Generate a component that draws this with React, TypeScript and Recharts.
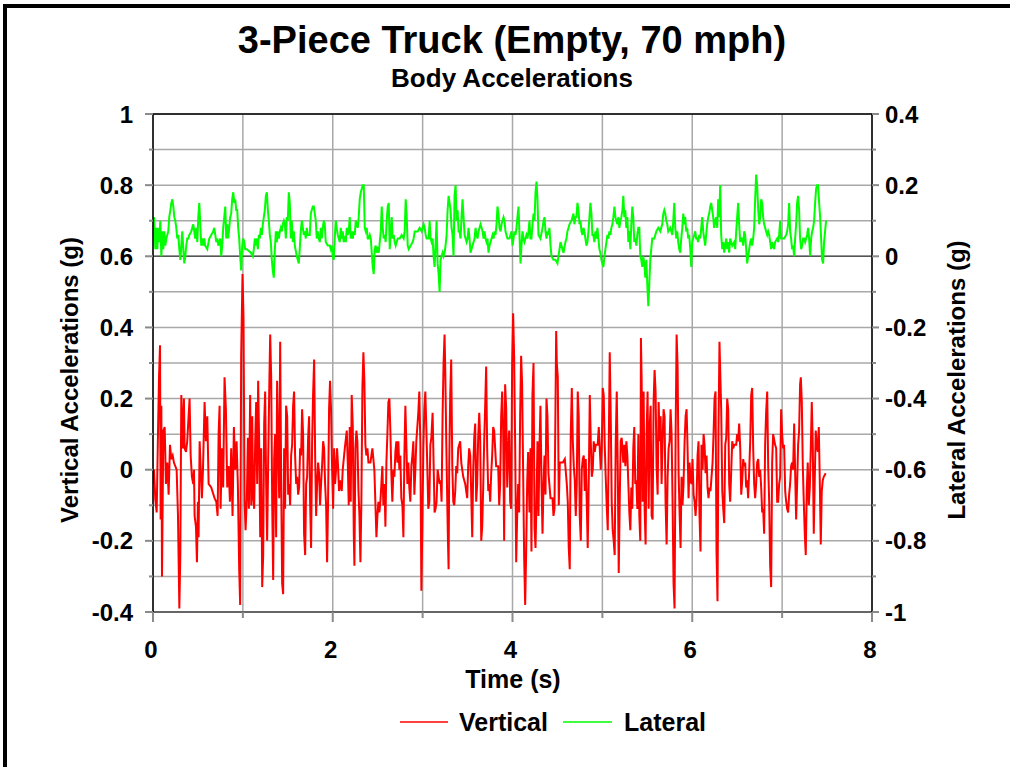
import React from "react";
import { LineChart, Line, XAxis, YAxis, CartesianGrid, ReferenceLine } from "recharts";

// ---- Data (time in s, acceleration in g) ----
const verticalSeries: [number, number][] = [
  [0.000,-0.04],[0.011,0.00],[0.026,-0.085],[0.041,-0.12],[0.056,0.11],[0.067,0.26],[0.078,0.35],[0.085,-0.14],[0.093,0.18],[0.100,-0.30],[0.115,0.11],[0.130,0.12],[0.144,-0.04],[0.159,0.02],[0.174,-0.07],[0.189,0.07],[0.204,0.03],[0.219,0.04],[0.233,0.02],[0.263,0.00],[0.278,-0.13],[0.293,-0.39],[0.304,-0.24],[0.315,0.21],[0.330,0.06],[0.344,0.20],[0.352,0.06],[0.367,0.05],[0.381,0.08],[0.396,0.15],[0.407,0.20],[0.419,0.04],[0.433,-0.02],[0.448,-0.04],[0.456,0.00],[0.463,-0.13],[0.478,-0.16],[0.489,-0.26],[0.500,-0.09],[0.507,-0.19],[0.519,0.08],[0.530,0.01],[0.544,-0.08],[0.556,0.00],[0.574,0.19],[0.589,0.08],[0.604,0.15],[0.619,-0.04],[0.648,-0.05],[0.685,-0.08],[0.704,-0.09],[0.719,-0.13],[0.730,0.10],[0.741,0.18],[0.752,-0.11],[0.767,0.06],[0.781,-0.05],[0.796,0.26],[0.811,0.17],[0.826,-0.05],[0.841,0.01],[0.856,-0.09],[0.870,0.06],[0.885,-0.13],[0.900,0.12],[0.915,0.00],[0.930,0.08],[0.944,-0.04],[0.959,-0.28],[0.970,-0.38],[0.981,0.32],[0.996,0.55],[1.007,0.43],[1.019,-0.09],[1.030,-0.17],
  [1.044,-0.08],[1.056,0.09],[1.067,-0.11],[1.081,0.21],[1.093,-0.10],[1.104,0.15],[1.115,-0.08],[1.126,-0.11],[1.137,0.08],[1.148,0.19],[1.159,-0.04],[1.170,0.25],[1.181,0.08],[1.193,-0.19],[1.204,0.06],[1.215,-0.33],[1.226,-0.24],[1.237,0.13],[1.248,0.22],[1.259,-0.04],[1.270,-0.20],[1.281,0.01],[1.293,0.22],[1.304,0.38],[1.315,0.26],[1.326,-0.09],[1.337,-0.31],[1.348,0.03],[1.359,0.10],[1.370,-0.19],[1.381,0.25],[1.393,0.06],[1.404,-0.08],[1.415,0.36],[1.426,-0.03],[1.437,-0.32],[1.448,-0.35],[1.459,0.06],[1.470,-0.11],[1.481,0.18],[1.493,0.15],[1.504,-0.07],[1.515,-0.04],[1.526,-0.10],[1.537,0.04],[1.548,0.07],[1.559,0.18],[1.570,0.22],[1.581,0.04],[1.593,-0.04],[1.604,-0.02],[1.615,-0.07],[1.626,-0.05],[1.637,0.06],[1.648,0.04],[1.659,0.17],[1.670,0.10],[1.681,-0.18],[1.693,-0.24],[1.704,-0.04],[1.715,-0.02],[1.726,0.09],[1.737,0.15],[1.748,-0.09],[1.759,-0.22],[1.770,0.07],[1.781,0.21],[1.793,0.31],[1.804,0.04],[1.815,-0.13],[1.826,-0.04],[1.837,0.02],[1.848,-0.01],[1.859,-0.10],[1.870,-0.04],[1.881,0.01],[1.893,0.08],[1.904,0.06],[1.915,-0.04],[1.926,-0.10],[1.937,-0.26],[1.948,-0.09],[1.959,0.17],[1.970,0.25],[1.981,0.17],[1.993,0.00],[2.004,-0.11],[2.015,0.06],[2.026,-0.04],[2.037,0.00],[2.048,0.06],[2.059,0.01],[2.070,-0.06],[2.081,-0.03],
  [2.100,-0.06],[2.111,0.00],[2.134,0.06],[2.156,0.11],[2.167,0.02],[2.178,-0.10],[2.189,0.12],[2.200,-0.09],[2.211,0.21],[2.223,0.12],[2.234,-0.18],[2.241,-0.27],[2.252,0.06],[2.263,0.11],[2.274,0.08],[2.286,-0.06],[2.297,-0.13],[2.308,-0.26],[2.319,-0.08],[2.330,0.23],[2.341,0.33],[2.352,0.25],[2.363,0.07],[2.374,0.04],[2.386,0.06],[2.397,0.02],[2.419,0.02],[2.441,0.06],[2.463,0.00],[2.474,-0.09],[2.486,-0.19],[2.497,-0.13],[2.508,-0.09],[2.519,-0.12],[2.530,-0.09],[2.541,-0.04],[2.552,0.01],[2.563,-0.10],[2.575,-0.04],[2.586,-0.16],[2.597,0.02],[2.608,0.10],[2.619,0.19],[2.630,0.20],[2.641,0.11],[2.652,-0.01],[2.663,-0.09],[2.675,0.00],[2.686,-0.02],[2.697,0.05],[2.708,0.08],[2.719,0.02],[2.730,0.08],[2.741,0.00],[2.752,0.04],[2.763,-0.08],[2.775,-0.10],[2.786,-0.19],[2.797,0.04],[2.808,0.18],[2.819,0.07],[2.830,-0.04],[2.841,0.02],[2.852,-0.05],[2.863,-0.09],[2.875,0.01],[2.886,0.04],[2.897,0.08],[2.908,-0.07],[2.919,0.00],[2.930,0.08],[2.952,0.16],[2.963,0.22],[2.975,0.07],[2.986,-0.34],[2.997,-0.16],[3.008,0.06],[3.019,0.17],[3.030,0.22],[3.041,0.12],[3.052,0.01],[3.063,-0.11],[3.075,-0.09],[3.086,0.07],[3.097,0.09],
  [3.111,0.16],[3.122,0.02],[3.133,-0.12],[3.144,-0.11],[3.155,-0.09],[3.167,0.00],[3.189,-0.04],[3.200,-0.03],[3.211,-0.09],[3.222,0.15],[3.233,0.30],[3.244,0.38],[3.252,0.28],[3.263,0.08],[3.274,-0.09],[3.281,-0.19],[3.289,-0.28],[3.296,0.01],[3.307,0.21],[3.318,0.31],[3.330,0.01],[3.341,-0.09],[3.352,-0.10],[3.363,-0.06],[3.374,0.01],[3.385,-0.01],[3.396,0.06],[3.407,0.07],[3.418,0.08],[3.430,0.02],[3.452,-0.02],[3.474,-0.04],[3.496,-0.08],[3.507,0.01],[3.518,0.06],[3.530,0.04],[3.541,-0.07],[3.552,-0.19],[3.563,0.00],[3.574,0.09],[3.585,0.13],[3.596,-0.09],[3.607,-0.04],[3.618,0.09],[3.630,0.16],[3.641,0.08],[3.652,-0.20],[3.663,-0.16],[3.674,-0.05],[3.685,0.08],[3.696,0.18],[3.707,0.29],[3.718,0.06],[3.730,-0.06],[3.741,-0.04],[3.752,-0.09],[3.763,-0.01],[3.774,0.04],[3.785,0.12],[3.796,0.11],[3.807,0.06],[3.818,0.01],[3.841,0.01],[3.852,-0.10],[3.863,-0.04],[3.874,0.15],[3.885,0.22],[3.896,0.11],[3.907,-0.20],[3.918,0.24],[3.930,0.17],[3.941,-0.05],[3.952,0.06],[3.963,0.11],[3.974,-0.09],[3.985,-0.11],[3.996,0.30],[4.007,0.44],[4.018,0.32],[4.030,0.06],[4.041,-0.26],[4.052,-0.13],[4.063,-0.04],[4.074,-0.12],[4.085,0.15],[4.096,0.32],[4.107,0.24],[4.118,0.00],[4.130,-0.25],[4.141,-0.38],[4.152,-0.23],[4.163,-0.04],[4.174,0.05],
  [4.189,-0.12],[4.200,0.06],[4.211,-0.23],[4.222,0.21],[4.234,0.30],[4.245,-0.16],[4.256,-0.22],[4.267,-0.09],[4.278,0.08],[4.289,-0.13],[4.300,0.06],[4.311,0.18],[4.323,-0.04],[4.334,-0.18],[4.345,-0.04],[4.356,0.04],[4.367,-0.07],[4.378,0.20],[4.389,0.15],[4.400,-0.01],[4.423,-0.08],[4.445,-0.08],[4.456,-0.13],[4.467,-0.11],[4.478,0.17],[4.486,0.39],[4.493,0.30],[4.504,0.26],[4.515,-0.10],[4.526,0.02],[4.560,0.02],[4.582,0.03],[4.604,-0.04],[4.615,-0.09],[4.626,-0.22],[4.637,-0.28],[4.648,0.10],[4.660,0.23],[4.671,0.08],[4.682,0.01],[4.693,-0.03],[4.704,-0.13],[4.715,-0.04],[4.726,0.22],[4.737,0.15],[4.748,-0.13],[4.760,-0.20],[4.771,0.00],[4.782,0.03],[4.793,0.04],[4.804,-0.06],[4.815,0.03],[4.826,-0.09],[4.837,-0.22],[4.849,-0.02],[4.860,0.21],[4.871,0.08],[4.882,-0.02],[4.893,0.00],[4.904,0.08],[4.915,0.05],[4.926,0.07],[4.948,0.07],[4.960,0.12],[4.971,0.06],[4.982,0.00],[4.993,0.06],[5.004,0.23],[5.015,0.21],[5.026,0.07],[5.037,-0.02],[5.048,-0.10],[5.060,-0.17],[5.071,0.07],[5.082,0.33],[5.093,0.15],[5.104,-0.09],[5.115,-0.17],[5.126,-0.20],[5.137,-0.24],[5.148,0.07],[5.160,0.22],[5.171,0.01],[5.182,-0.29],[5.193,-0.09],[5.204,0.08],[5.215,0.09],
  [5.233,0.02],[5.244,0.07],[5.256,0.01],[5.267,0.08],[5.278,0.04],[5.289,-0.04],[5.300,-0.12],[5.311,-0.17],[5.322,-0.05],[5.333,-0.11],[5.344,0.06],[5.355,0.12],[5.366,-0.04],[5.378,-0.03],[5.389,-0.11],[5.400,0.10],[5.411,-0.13],[5.422,-0.20],[5.429,0.37],[5.437,0.25],[5.448,-0.09],[5.459,0.22],[5.470,-0.11],[5.481,-0.21],[5.492,0.10],[5.503,0.22],[5.515,-0.11],[5.526,0.12],[5.537,0.18],[5.548,-0.13],[5.559,-0.14],[5.570,0.19],[5.581,0.28],[5.592,0.22],[5.603,0.01],[5.615,-0.07],[5.626,0.19],[5.637,0.08],[5.648,0.15],[5.659,-0.04],[5.670,0.08],[5.681,0.17],[5.692,0.15],[5.703,-0.09],[5.715,-0.21],[5.726,-0.02],[5.737,0.06],[5.748,0.08],[5.759,0.17],[5.770,0.10],[5.781,-0.09],[5.792,-0.32],[5.803,-0.39],[5.815,0.10],[5.826,0.38],[5.837,0.29],[5.848,-0.01],[5.859,-0.12],[5.870,-0.22],[5.881,-0.02],[5.892,-0.10],[5.903,-0.04],[5.915,0.08],[5.926,0.15],[5.937,0.17],[5.948,0.06],[5.959,-0.08],[5.970,0.02],[5.981,-0.03],[5.992,-0.04],[6.003,0.03],[6.015,-0.07],[6.026,-0.09],[6.037,-0.13],[6.048,-0.08],[6.059,0.04],[6.070,0.08],[6.081,-0.13],[6.092,-0.23],[6.103,0.07],[6.115,0.00],[6.126,0.10],[6.137,0.07],[6.148,-0.01],[6.159,0.04],[6.170,-0.05],[6.181,-0.08],[6.192,-0.05],[6.203,-0.06],[6.226,0.02],[6.237,0.10],[6.248,0.20],[6.259,0.22],[6.270,-0.23],[6.281,-0.37],[6.292,0.11],[6.303,0.36],
  [6.322,0.17],[6.334,-0.06],[6.345,-0.11],[6.356,-0.15],[6.367,0.07],[6.378,0.09],[6.389,0.20],[6.400,0.17],[6.411,-0.04],[6.422,-0.09],[6.434,0.00],[6.445,0.08],[6.456,0.06],[6.467,0.07],[6.489,0.07],[6.500,0.10],[6.511,0.08],[6.522,0.13],[6.534,0.06],[6.545,-0.07],[6.556,-0.03],[6.567,0.03],[6.578,0.01],[6.589,0.02],[6.600,-0.05],[6.611,-0.03],[6.622,-0.08],[6.634,0.00],[6.645,0.08],[6.656,0.21],[6.667,0.23],[6.678,0.06],[6.689,-0.04],[6.700,-0.08],[6.711,-0.04],[6.722,0.02],[6.734,0.03],[6.745,-0.02],[6.756,0.00],[6.767,-0.05],[6.778,-0.12],[6.789,-0.11],[6.800,-0.18],[6.811,0.07],[6.822,0.16],[6.834,0.22],[6.845,0.01],[6.856,-0.09],[6.867,-0.27],[6.878,-0.33],[6.889,0.02],[6.900,0.10],[6.922,0.07],[6.934,0.06],[6.945,-0.09],[6.956,-0.09],[6.967,-0.04],[6.978,-0.02],[6.989,0.17],[7.000,0.10],[7.011,0.06],[7.022,0.07],[7.034,-0.06],[7.045,-0.09],[7.056,-0.11],[7.067,-0.12],[7.078,-0.07],[7.089,-0.04],[7.100,0.01],[7.111,0.02],[7.122,0.00],[7.134,0.13],[7.145,-0.01],[7.156,-0.14],[7.167,-0.04],[7.178,0.07],[7.189,0.11],[7.200,0.24],[7.208,0.26],[7.219,0.19],[7.230,0.01],[7.241,-0.09],[7.252,-0.18],[7.263,-0.24],[7.274,-0.06],[7.285,0.02],[7.297,-0.10],[7.308,-0.05],[7.319,0.06],[7.330,0.19],[7.341,0.07],[7.352,-0.18],[7.363,-0.03],[7.374,0.11],[7.385,0.07],[7.397,0.05],[7.408,0.12],[7.419,-0.03],[7.430,-0.21],[7.441,-0.06],[7.452,-0.03],[7.463,-0.02],[7.485,-0.01],
];

const lateralSeries: [number, number][] = [
  [0.000,0.06],[0.011,0.11],[0.026,0.02],[0.037,0.08],[0.048,0.02],[0.059,0.08],[0.070,0.04],[0.081,0.10],[0.093,0.00],[0.104,0.07],[0.115,0.02],[0.126,0.07],[0.137,0.03],[0.148,0.05],[0.159,0.06],[0.170,0.07],[0.181,0.11],[0.193,0.13],[0.204,0.15],[0.215,0.16],[0.226,0.14],[0.237,0.11],[0.248,0.10],[0.259,0.08],[0.270,0.05],[0.281,0.06],[0.293,0.02],[0.304,-0.01],[0.315,0.03],[0.326,0.07],[0.337,0.02],[0.348,-0.02],[0.359,0.00],[0.370,0.03],[0.381,0.05],[0.393,0.05],[0.404,0.06],[0.426,0.07],[0.448,0.09],[0.459,0.07],[0.470,0.05],[0.481,0.08],[0.493,0.04],[0.504,0.11],[0.515,0.15],[0.526,0.09],[0.537,0.03],[0.548,0.05],[0.559,0.03],[0.570,0.05],[0.581,0.03],[0.604,0.02],[0.626,0.05],[0.648,0.06],[0.670,0.07],[0.681,0.08],[0.693,0.06],[0.704,0.04],[0.715,0.05],[0.726,0.03],[0.737,0.04],[0.748,0.05],[0.759,0.00],[0.770,0.03],[0.781,0.08],[0.793,0.11],[0.804,0.14],[0.815,0.05],[0.826,0.09],[0.837,0.05],[0.848,0.08],[0.859,0.11],[0.870,0.12],[0.881,0.16],[0.893,0.18],[0.904,0.15],[0.915,0.16],[0.926,0.13],[0.937,0.13],[0.948,0.08],[0.959,0.05],[0.970,0.00],[0.981,-0.04],[0.993,0.03],[1.004,0.05],[1.015,0.04],[1.026,0.02],
  [1.044,0.02],[1.089,0.01],[1.111,0.00],[1.122,0.02],[1.133,0.05],[1.144,0.03],[1.156,0.05],[1.167,0.02],[1.178,0.06],[1.189,0.05],[1.200,0.08],[1.211,0.06],[1.222,0.09],[1.233,0.11],[1.244,0.13],[1.256,0.17],[1.267,0.18],[1.278,0.13],[1.289,0.10],[1.300,0.06],[1.311,0.04],[1.322,-0.01],[1.333,-0.04],[1.344,-0.06],[1.356,0.02],[1.367,0.07],[1.378,0.04],[1.389,0.07],[1.400,0.05],[1.411,0.07],[1.422,0.08],[1.433,0.07],[1.444,0.09],[1.456,0.10],[1.467,0.09],[1.478,0.05],[1.489,0.11],[1.500,0.10],[1.511,0.18],[1.522,0.15],[1.533,0.05],[1.544,0.10],[1.556,0.04],[1.567,0.07],[1.578,0.03],[1.600,0.00],[1.622,-0.02],[1.633,0.02],[1.644,0.07],[1.656,0.10],[1.678,0.06],[1.689,0.07],[1.700,0.05],[1.711,0.08],[1.722,0.06],[1.744,0.06],[1.756,0.12],[1.767,0.13],[1.778,0.14],[1.789,0.14],[1.800,0.12],[1.811,0.10],[1.822,0.05],[1.833,0.07],[1.844,0.05],[1.856,0.04],[1.867,0.08],[1.878,0.05],[1.889,0.08],[1.900,0.10],[1.911,0.09],[1.922,0.04],[1.944,0.03],[1.967,0.03],[1.978,0.02],[1.989,0.03],[2.000,0.00],[2.011,-0.01],[2.022,0.05],[2.033,0.10],[2.044,0.08],[2.056,0.06],
  [2.078,0.04],[2.089,0.08],[2.100,0.05],[2.111,0.07],[2.122,0.04],[2.134,0.05],[2.145,0.04],[2.156,0.08],[2.167,0.06],[2.178,0.07],[2.189,0.11],[2.200,0.05],[2.211,0.07],[2.223,0.05],[2.234,0.07],[2.245,0.06],[2.256,0.10],[2.267,0.09],[2.278,0.08],[2.289,0.11],[2.300,0.16],[2.312,0.18],[2.334,0.20],[2.345,0.20],[2.356,0.08],[2.367,0.07],[2.378,0.08],[2.389,0.05],[2.400,0.05],[2.412,0.06],[2.423,0.05],[2.434,0.01],[2.445,-0.03],[2.456,-0.05],[2.467,0.02],[2.478,0.03],[2.489,0.01],[2.500,0.02],[2.512,0.01],[2.523,0.04],[2.534,0.07],[2.545,0.14],[2.556,0.08],[2.567,0.05],[2.578,0.06],[2.589,0.04],[2.600,0.10],[2.612,0.14],[2.623,0.15],[2.634,0.02],[2.645,0.06],[2.656,0.11],[2.667,0.05],[2.678,0.06],[2.689,0.04],[2.700,0.03],[2.723,0.05],[2.745,0.05],[2.767,0.06],[2.789,0.05],[2.800,0.07],[2.812,0.16],[2.823,0.11],[2.834,0.03],[2.845,0.02],[2.867,0.03],[2.889,0.04],[2.900,0.05],[2.912,0.07],[2.945,0.07],[2.967,0.08],[2.989,0.07],[3.012,0.09],[3.023,0.08],[3.034,0.06],[3.045,0.05],[3.056,0.05],[3.067,0.05],[3.078,0.10],[3.089,0.05],[3.100,0.04],[3.111,0.05],
  [3.122,0.00],[3.133,-0.03],[3.144,0.03],[3.155,0.10],[3.167,-0.02],[3.178,-0.05],[3.189,-0.10],[3.200,-0.01],[3.211,0.00],[3.222,0.01],[3.233,0.00],[3.244,0.01],[3.255,0.03],[3.267,0.06],[3.278,0.13],[3.289,0.17],[3.300,0.15],[3.311,0.13],[3.322,0.08],[3.333,0.06],[3.344,0.00],[3.355,0.17],[3.367,0.20],[3.378,0.10],[3.389,0.13],[3.400,0.07],[3.411,0.07],[3.422,0.05],[3.433,0.11],[3.444,0.16],[3.455,0.11],[3.467,0.06],[3.478,0.05],[3.489,0.04],[3.500,0.05],[3.511,0.08],[3.522,0.05],[3.533,0.01],[3.544,0.02],[3.555,0.03],[3.578,0.05],[3.589,0.08],[3.600,0.06],[3.611,0.05],[3.622,0.07],[3.644,0.09],[3.667,0.07],[3.678,0.05],[3.689,0.07],[3.700,0.05],[3.711,0.04],[3.722,0.05],[3.733,0.01],[3.744,0.03],[3.767,0.05],[3.778,0.06],[3.789,0.05],[3.800,0.07],[3.811,0.06],[3.822,0.09],[3.833,0.14],[3.844,0.12],[3.855,0.08],[3.867,0.07],[3.878,0.09],[3.889,0.10],[3.900,0.11],[3.911,0.10],[3.922,0.07],[3.933,0.06],[3.944,0.05],[3.967,0.05],[3.989,0.07],[4.000,0.03],[4.011,0.05],[4.022,0.07],[4.033,0.06],[4.044,0.08],[4.055,0.11],[4.067,0.14],[4.078,0.06],[4.089,-0.02],[4.100,0.03],[4.111,0.07],[4.122,0.05],[4.133,0.04],[4.144,0.05],[4.155,0.06],[4.167,0.05],
  [4.178,0.07],[4.189,0.10],[4.200,0.05],[4.211,0.05],[4.223,0.09],[4.234,0.12],[4.245,0.10],[4.256,0.18],[4.267,0.21],[4.278,0.16],[4.289,0.06],[4.311,0.05],[4.334,0.08],[4.345,0.10],[4.356,0.11],[4.367,0.07],[4.378,0.05],[4.389,0.07],[4.400,0.06],[4.411,0.08],[4.423,0.03],[4.434,0.00],[4.456,-0.01],[4.478,-0.01],[4.500,-0.02],[4.511,0.00],[4.523,0.02],[4.534,0.04],[4.545,0.03],[4.567,0.01],[4.589,0.04],[4.600,0.05],[4.611,0.07],[4.623,0.08],[4.634,0.09],[4.656,0.10],[4.667,0.11],[4.678,0.12],[4.689,0.09],[4.700,0.11],[4.711,0.11],[4.723,0.15],[4.734,0.13],[4.745,0.09],[4.756,0.10],[4.767,0.07],[4.778,0.06],[4.789,0.08],[4.800,0.07],[4.811,0.05],[4.823,0.03],[4.834,0.04],[4.845,0.07],[4.856,0.11],[4.867,0.15],[4.878,0.12],[4.889,0.06],[4.900,0.06],[4.911,0.04],[4.923,0.07],[4.934,0.05],[4.945,0.08],[4.956,0.05],[4.967,0.02],[4.978,0.01],[4.989,-0.01],[5.000,-0.02],[5.011,-0.03],[5.023,0.00],[5.034,0.02],[5.045,0.04],[5.056,0.06],[5.067,0.05],[5.078,0.07],[5.089,0.06],[5.100,0.08],[5.111,0.09],[5.122,0.11],[5.134,0.14],[5.145,0.11],[5.156,0.10],[5.167,0.09],[5.178,0.11],[5.189,0.08],[5.200,0.10],[5.211,0.11],[5.223,0.13],
  [5.233,0.17],[5.244,0.11],[5.255,0.13],[5.266,0.08],[5.278,0.11],[5.289,0.04],[5.300,0.07],[5.311,0.02],[5.322,0.09],[5.333,0.14],[5.344,0.11],[5.355,0.04],[5.366,0.05],[5.378,0.03],[5.389,0.06],[5.400,0.08],[5.411,0.08],[5.422,0.00],[5.433,-0.01],[5.444,-0.03],[5.455,0.00],[5.466,-0.02],[5.478,-0.06],[5.489,-0.01],[5.500,-0.08],[5.511,-0.14],[5.522,-0.08],[5.533,-0.01],[5.544,0.02],[5.555,0.05],[5.578,0.05],[5.600,0.07],[5.622,0.08],[5.644,0.07],[5.655,0.08],[5.666,0.09],[5.678,0.12],[5.689,0.13],[5.700,0.12],[5.711,0.10],[5.722,0.09],[5.733,0.07],[5.755,0.08],[5.778,0.06],[5.789,0.10],[5.800,0.15],[5.811,0.08],[5.822,0.05],[5.833,0.07],[5.844,0.04],[5.855,0.02],[5.866,0.01],[5.878,0.05],[5.889,0.08],[5.900,0.12],[5.911,0.09],[5.922,0.11],[5.933,0.07],[5.944,0.08],[5.955,0.05],[5.966,0.06],[5.978,0.02],[5.989,-0.03],[6.000,0.04],[6.011,0.05],[6.022,0.06],[6.033,0.07],[6.044,0.05],[6.055,0.05],[6.066,0.04],[6.078,0.06],[6.089,0.05],[6.100,0.08],[6.111,0.11],[6.122,0.07],[6.133,0.05],[6.144,0.03],[6.155,0.06],[6.166,0.09],[6.178,0.11],[6.189,0.12],[6.200,0.14],[6.211,0.15],[6.222,0.13],[6.233,0.11],[6.244,0.08],[6.255,0.10],[6.266,0.11],[6.278,0.08],
  [6.289,0.16],[6.300,0.11],[6.311,0.20],[6.322,0.06],[6.334,0.02],[6.345,0.04],[6.356,0.01],[6.367,0.03],[6.378,0.05],[6.389,0.02],[6.400,0.04],[6.411,0.01],[6.422,0.05],[6.445,0.03],[6.467,0.04],[6.478,0.02],[6.489,0.07],[6.500,0.11],[6.511,0.15],[6.522,0.09],[6.534,0.04],[6.545,0.05],[6.556,0.05],[6.567,0.03],[6.578,0.07],[6.589,0.06],[6.600,0.02],[6.611,-0.02],[6.622,0.00],[6.634,0.02],[6.645,0.04],[6.656,0.05],[6.667,0.03],[6.678,0.05],[6.689,0.08],[6.700,0.16],[6.711,0.23],[6.722,0.20],[6.734,0.13],[6.745,0.09],[6.756,0.11],[6.767,0.16],[6.778,0.15],[6.789,0.11],[6.800,0.09],[6.811,0.08],[6.822,0.07],[6.834,0.06],[6.845,0.07],[6.856,0.06],[6.867,0.04],[6.878,0.02],[6.889,0.04],[6.900,0.03],[6.911,0.02],[6.922,0.04],[6.945,0.05],[6.956,0.04],[6.967,0.06],[6.978,0.10],[6.989,0.05],[7.000,0.05],[7.022,0.05],[7.045,0.06],[7.056,0.07],[7.067,0.09],[7.078,0.15],[7.089,0.07],[7.100,0.05],[7.111,0.02],[7.122,0.03],[7.134,0.00],[7.145,0.05],[7.156,0.09],[7.167,0.15],[7.178,0.17],[7.189,0.13],[7.200,0.05],[7.212,0.02],[7.223,0.03],[7.234,0.05],[7.245,0.05],[7.256,0.04],[7.267,0.05],[7.278,0.06],[7.289,0.08],[7.300,0.05],[7.312,0.00],[7.323,0.05],[7.334,0.07],[7.345,0.08],[7.356,0.10],[7.367,0.15],[7.378,0.19],[7.389,0.20],[7.400,0.20],[7.412,0.15],[7.423,0.11],[7.434,0.05],[7.445,-0.01],[7.456,-0.02],[7.467,0.04],[7.478,0.07],[7.489,0.10],
];

const xTicks = [0, 1, 2, 3, 4, 5, 6, 7, 8];
const xTickLabels = ["0", "", "2", "", "4", "", "6", "", "8"];
const leftTicks = [-0.4, -0.3, -0.2, -0.1, 0, 0.1, 0.2, 0.3, 0.4, 0.5, 0.6, 0.7, 0.8, 0.9, 1];
const leftTickLabels = ["-0.4", "", "-0.2", "", "0", "", "0.2", "", "0.4", "", "0.6", "", "0.8", "", "1"];
const rightTicks = [-1, -0.9, -0.8, -0.7, -0.6, -0.5, -0.4, -0.3, -0.2, -0.1, 0, 0.1, 0.2, 0.3, 0.4];
const rightTickLabels = ["-1", "", "-0.8", "", "-0.6", "", "-0.4", "", "-0.2", "", "0", "", "0.2", "", "0.4"];

const verticalData = verticalSeries.map(([t, v]) => ({ t, v }));
const lateralData = lateralSeries.map(([t, l]) => ({ t, l }));

const FONT = '"Liberation Sans", Arial, Helvetica, sans-serif';
const TICK_COLOR = "#8a8a8a";
const GRID_COLOR = "#a8a8a8";

const LeftTick = (props: any) => {
  const { x, y, index } = props;
  const label = leftTickLabels[index];
  const len = label ? 8 : 4;
  return (
    <g>
      <line x1={x - len} x2={x} y1={y} y2={y} stroke={TICK_COLOR} strokeWidth={2} />
      {label ? (
        <text x={x - 20} y={y} dy={8.5} textAnchor="end" fontFamily={FONT} fontWeight="bold" fontSize={24} fill="#000">
          {label}
        </text>
      ) : null}
    </g>
  );
};

const RightTick = (props: any) => {
  const { x, y, index } = props;
  const label = rightTickLabels[index];
  const len = label ? 7 : 4;
  return (
    <g>
      <line x1={x} x2={x + len} y1={y} y2={y} stroke={TICK_COLOR} strokeWidth={2} />
      {label ? (
        <text x={x + 13} y={y} dy={8.5} textAnchor="start" fontFamily={FONT} fontWeight="bold" fontSize={24} fill="#000">
          {label}
        </text>
      ) : null}
    </g>
  );
};

const BottomTick = (props: any) => {
  const { x, y, index } = props;
  const label = xTickLabels[index];
  const len = label ? 10 : 6;
  return (
    <g>
      <line x1={x} x2={x} y1={y} y2={y + len} stroke={TICK_COLOR} strokeWidth={2} />
      {label ? (
        <text x={x - 2} y={y + 46} textAnchor="middle" fontFamily={FONT} fontWeight="bold" fontSize={24} fill="#000">
          {label}
        </text>
      ) : null}
    </g>
  );
};

export default function App() {
  return (
    <div style={{ position: "absolute", left: 0, top: 0, width: 1010, height: 767, background: "#fff", overflow: "hidden" }}>
      <LineChart
        width={1010}
        height={767}
        margin={{ top: 114, right: 78, bottom: 125, left: 93 }}
        style={{ position: "absolute", left: 0, top: 0 }}
      >
        <CartesianGrid yAxisId="left" stroke={GRID_COLOR} strokeWidth={1.5} />
        <XAxis
          dataKey="t"
          type="number"
          domain={[0, 8]}
          ticks={xTicks}
          interval={0}
          allowDataOverflow
          height={30}
          axisLine={false}
          tickLine={false}
          tickSize={0}
          tickMargin={0}
          tick={<BottomTick />}
        />
        <YAxis
          yAxisId="left"
          type="number"
          domain={[-0.4, 1]}
          ticks={leftTicks}
          interval={0}
          allowDataOverflow
          width={60}
          axisLine={{ stroke: "#000", strokeWidth: 1.5 }}
          tickLine={false}
          tickSize={0}
          tickMargin={0}
          tick={<LeftTick />}
        />
        <YAxis
          yAxisId="right"
          orientation="right"
          type="number"
          domain={[-1, 0.4]}
          ticks={rightTicks}
          interval={0}
          allowDataOverflow
          width={60}
          axisLine={{ stroke: "#000", strokeWidth: 1.5 }}
          tickLine={false}
          tickSize={0}
          tickMargin={0}
          tick={<RightTick />}
        />
        <ReferenceLine yAxisId="left" y={0.6} stroke="#555" strokeWidth={1.5} />
        <ReferenceLine yAxisId="left" y={-0.4} stroke="#666" strokeWidth={2} />
        <ReferenceLine yAxisId="left" y={1} stroke="#000" strokeWidth={1.5} />
        <Line
          data={verticalData}
          yAxisId="left"
          dataKey="v"
          type="linear"
          stroke="#ff0000"
          strokeWidth={2}
          dot={false}
          isAnimationActive={false}
          name="Vertical"
        />
        <Line
          data={lateralData}
          yAxisId="right"
          dataKey="l"
          type="linear"
          stroke="#00ff00"
          strokeWidth={2}
          dot={false}
          isAnimationActive={false}
          name="Lateral"
        />
      </LineChart>
      <svg width={1010} height={767} style={{ position: "absolute", left: 0, top: 0, pointerEvents: "none" }}>
        <rect x={3} y={4} width={4} height={763} fill="#000" />
        <rect x={3} y={4} width={1007} height={4} fill="#000" />
        <text x={512} y={53} textAnchor="middle" fontFamily={FONT} fontWeight="bold" fontSize={38} fill="#000">
          3-Piece Truck (Empty, 70 mph)
        </text>
        <text x={512} y={87} textAnchor="middle" fontFamily={FONT} fontWeight="bold" fontSize={26} fill="#000">
          Body Accelerations
        </text>
        <text x={513} y={688} textAnchor="middle" fontFamily={FONT} fontWeight="bold" fontSize={25} fill="#000">
          Time (s)
        </text>
        <text
          x={78}
          y={380}
          textAnchor="middle"
          transform="rotate(-90 78 380)"
          fontFamily={FONT}
          fontWeight="bold"
          fontSize={24}
          fill="#000"
        >
          Vertical Accelerations (g)
        </text>
        <text
          x={965}
          y={380}
          textAnchor="middle"
          transform="rotate(-90 965 380)"
          fontFamily={FONT}
          fontWeight="bold"
          fontSize={24}
          fill="#000"
        >
          Lateral Accelerations (g)
        </text>
        <line x1={400} x2={448} y1={722} y2={722} stroke="#ff0000" strokeWidth={1.5} />
        <text x={459} y={731} fontFamily={FONT} fontWeight="bold" fontSize={25} fill="#000">
          Vertical
        </text>
        <line x1={563} x2={612} y1={722} y2={722} stroke="#00ff00" strokeWidth={1.5} />
        <text x={624} y={731} fontFamily={FONT} fontWeight="bold" fontSize={25} fill="#000">
          Lateral
        </text>
      </svg>
    </div>
  );
}
